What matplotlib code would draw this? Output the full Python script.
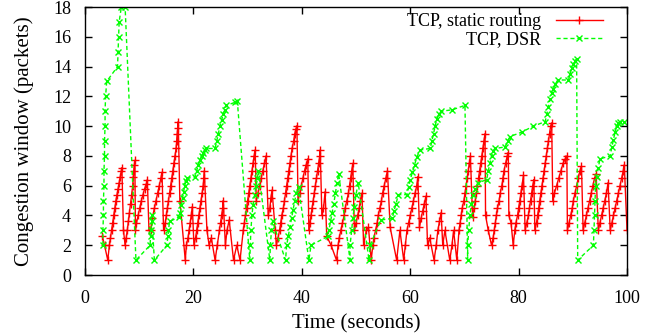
"""
TCP congestion window over time: static routing vs. DSR (gnuplot-like look).
"""
import matplotlib
matplotlib.use("Agg")
import matplotlib.pyplot as plt

plt.rcParams["font.family"] = ["Liberation Serif", "DejaVu Serif"]

# (time [s], cwnd [packets])
tcp_static = [
    (3.2, 2.6), (3.6, 2.0), (4.2, 1.0), (4.5, 2.0),
    (4.7, 2.5), (4.9, 3.0), (5.1, 3.5), (5.3, 4.0), (5.5, 4.5), (5.7, 5.0),
    (5.9, 5.4), (6.1, 5.8), (6.3, 6.2), (6.5, 6.6), (6.7, 7.0), (6.8, 7.2),
    (7.1, 3.0), (7.4, 2.0),
    (7.6, 2.5), (7.8, 3.0), (8.0, 3.6), (8.2, 4.2), (8.4, 4.8), (8.6, 5.4),
    (8.8, 6.0), (8.9, 6.6), (9.0, 7.0), (9.1, 7.4), (9.2, 7.7),
    (9.3, 3.0), (9.5, 3.5), (9.8, 4.0), (10.1, 4.5), (10.4, 5.0), (10.7, 5.4),
    (11.0, 5.8), (11.3, 6.1), (11.5, 6.4),
    (11.8, 3.0), (12.1, 3.0), (12.4, 3.8), (12.8, 4.5), (13.1, 5.0),
    (13.4, 5.5), (13.7, 6.0), (14.0, 6.5), (14.2, 6.9),
    (14.5, 3.0), (14.8, 3.5), (15.0, 4.0), (15.2, 4.5), (15.4, 5.0),
    (15.6, 5.5), (15.8, 6.0), (16.0, 6.5), (16.2, 7.0), (16.4, 7.5),
    (16.6, 8.0), (16.8, 8.5), (16.9, 9.0), (17.0, 9.5), (17.1, 9.9), (17.2, 10.3),
    (17.5, 5.0), (18.5, 1.0), (18.7, 2.0),
    (19.0, 2.5), (19.2, 3.0), (19.4, 3.5), (19.6, 4.0), (19.8, 4.6),
    (20.1, 2.0), (20.4, 2.5), (20.6, 3.0), (20.8, 3.5), (21.0, 4.0),
    (21.2, 4.5), (21.4, 5.0), (21.6, 5.5), (21.8, 6.0), (21.9, 6.5), (22.0, 7.0),
    (22.5, 3.0), (22.9, 2.0), (23.3, 2.5), (24.0, 1.0), (24.4, 2.0),
    (24.8, 3.0), (25.0, 3.5), (25.2, 4.0), (25.4, 4.5), (25.5, 5.0),
    (25.9, 2.0), (26.2, 3.0), (26.6, 3.7), (27.4, 1.0), (28.0, 2.0),
    (28.6, 1.0), (29.2, 3.0),
    (29.4, 3.5), (29.6, 4.0), (29.8, 4.5), (30.0, 5.0), (30.2, 5.5),
    (30.4, 6.0), (30.6, 6.5), (30.8, 7.0), (31.0, 7.5), (31.2, 8.0), (31.4, 8.4),
    (31.6, 5.0), (31.9, 5.5), (32.2, 6.0), (32.5, 6.5), (32.8, 7.0),
    (33.1, 7.5), (33.4, 8.0),
    (33.8, 4.0), (34.1, 4.5), (34.3, 5.2), (34.5, 5.7),
    (35.1, 3.0), (35.3, 2.0),
    (35.6, 2.5), (35.9, 3.0), (36.1, 3.5), (36.3, 4.0), (36.6, 4.5),
    (36.8, 5.0), (37.0, 5.5), (37.2, 6.0), (37.4, 6.5), (37.6, 7.0),
    (37.8, 7.5), (38.0, 8.0), (38.2, 8.5), (38.5, 9.0), (38.7, 9.5),
    (38.9, 9.8), (39.1, 10.0),
    (39.3, 5.0), (39.6, 5.5), (39.9, 6.0), (40.2, 6.5), (40.5, 7.0),
    (40.8, 7.4), (41.1, 7.8),
    (41.3, 3.0), (41.5, 3.5), (41.7, 4.0), (41.9, 4.5), (42.1, 5.0),
    (42.3, 5.5), (42.5, 6.0), (42.7, 6.5), (42.9, 7.0), (43.1, 7.5),
    (43.3, 8.0), (43.4, 8.4),
    (43.7, 4.0), (44.0, 4.5), (44.3, 5.6), (44.6, 2.6), (45.4, 2.0),
    (46.4, 1.0), (46.7, 2.0),
    (46.9, 2.5), (47.2, 3.0), (47.5, 3.5), (47.8, 4.0), (48.0, 4.5),
    (48.3, 5.0), (48.6, 5.5), (48.8, 6.0), (49.0, 6.5), (49.2, 7.0), (49.4, 7.5),
    (49.7, 3.0), (50.0, 3.5), (50.3, 4.0), (50.6, 4.5), (50.8, 5.0), (51.1, 5.5),
    (51.4, 2.0), (51.9, 3.0), (52.3, 3.2), (52.8, 1.0), (53.1, 2.0),
    (53.3, 2.5), (53.6, 3.0), (53.9, 3.5), (54.1, 4.0), (54.4, 4.5),
    (54.7, 5.0), (54.9, 5.5), (55.2, 6.0), (55.5, 6.5), (55.8, 7.0),
    (56.3, 3.2), (57.5, 1.0), (58.1, 3.0), (58.8, 1.0), (59.1, 2.0),
    (59.4, 3.0), (59.7, 3.5), (60.0, 4.0), (60.3, 4.5), (60.6, 5.0),
    (60.9, 5.5), (61.2, 6.0), (61.4, 6.6),
    (61.7, 3.2), (62.0, 3.8), (62.3, 4.3), (62.6, 4.8), (62.9, 5.3),
    (63.2, 2.0), (63.6, 2.5), (64.4, 1.0), (64.8, 2.0),
    (65.1, 3.0), (65.4, 3.6), (65.7, 4.2),
    (66.0, 2.0), (66.4, 3.0), (67.3, 1.0), (67.7, 2.0), (68.0, 3.0),
    (68.6, 1.0), (69.0, 3.0),
    (69.2, 3.5), (69.4, 4.0), (69.6, 4.5), (69.9, 5.0), (70.1, 5.5),
    (70.3, 6.0), (70.5, 6.5), (70.7, 7.0), (70.9, 7.5), (71.1, 8.0),
    (71.5, 3.9), (71.8, 4.5), (72.0, 5.0), (72.2, 5.5), (72.4, 6.0),
    (72.6, 6.5), (72.8, 7.0), (73.0, 7.5), (73.2, 8.0), (73.4, 8.5),
    (73.6, 9.0), (73.8, 9.5),
    (73.9, 4.0), (74.4, 3.0), (75.0, 2.0),
    (75.3, 2.5), (75.5, 3.0), (75.7, 3.5), (75.9, 4.0), (76.1, 4.5),
    (76.4, 5.0), (76.6, 5.5), (76.9, 6.0), (77.1, 6.5), (77.3, 7.0),
    (77.6, 7.5), (77.9, 8.0), (78.1, 8.2),
    (78.2, 4.0), (78.6, 3.5), (79.0, 2.0),
    (79.3, 3.0), (79.5, 3.5), (79.8, 4.0), (80.0, 4.5), (80.2, 5.0),
    (80.4, 5.5), (80.6, 6.0), (80.9, 6.7),
    (81.2, 3.0), (81.5, 3.5), (81.8, 4.0), (82.0, 4.5), (82.2, 5.0),
    (82.4, 5.5), (82.6, 6.0), (82.8, 6.4),
    (83.0, 3.0), (83.3, 3.5), (83.5, 4.0), (83.7, 4.5), (83.9, 5.0),
    (84.1, 5.5), (84.3, 6.0), (84.5, 6.5), (84.7, 7.0), (84.9, 7.5),
    (85.1, 8.0), (85.3, 8.5), (85.5, 9.0), (85.7, 9.5), (85.9, 10.0), (86.1, 10.2),
    (86.3, 5.0), (86.6, 5.5), (87.0, 6.0), (87.4, 6.5), (87.8, 7.0),
    (88.2, 7.5), (88.6, 7.8), (88.9, 8.0),
    (89.0, 3.0), (89.3, 3.5), (89.6, 4.0), (89.9, 4.5), (90.1, 5.0),
    (90.4, 5.5), (90.7, 6.0), (91.0, 6.5), (91.3, 7.0), (91.6, 7.3),
    (91.9, 3.0), (92.2, 3.5), (92.5, 4.0), (92.8, 4.5), (93.1, 5.0),
    (93.4, 5.5), (93.7, 6.0), (94.0, 6.5), (94.3, 6.8),
    (94.7, 3.0), (95.0, 3.5), (95.3, 4.0), (95.6, 4.5), (95.9, 5.0),
    (96.2, 5.5), (96.5, 6.2),
    (96.9, 3.0), (97.2, 3.5), (97.5, 4.0), (97.8, 4.5), (98.1, 5.0),
    (98.4, 5.5), (98.7, 6.0), (99.0, 6.5), (99.3, 7.0), (99.5, 7.4),
    (100.0, 3.0),
]

tcp_dsr = [
    (3.3, 2.0), (3.3, 3.0), (3.4, 4.0), (3.4, 5.0), (3.5, 6.0), (3.5, 7.0),
    (3.6, 8.0), (3.6, 9.0), (3.7, 10.0), (3.7, 11.0), (3.8, 12.0), (4.0, 13.0),
    (6.0, 14.0), (6.1, 15.0), (6.2, 16.0), (6.3, 17.0), (6.7, 18.0), (7.4, 18.0),
    (9.4, 1.0), (12.0, 2.0), (12.1, 2.6), (12.2, 3.0), (12.3, 3.6), (12.3, 4.0),
    (12.8, 1.0), (15.1, 2.0), (15.3, 2.6), (15.4, 3.0), (15.6, 3.6), (17.4, 3.9),
    (17.6, 4.2), (17.8, 4.7), (18.0, 5.2), (18.2, 5.6), (18.4, 6.0), (18.6, 6.3),
    (18.8, 6.5), (20.3, 6.6),
    (20.6, 7.0), (20.9, 7.4), (21.2, 7.7), (21.5, 8.0), (21.8, 8.2), (22.1, 8.4),
    (22.4, 8.5), (24.0, 8.5),
    (24.3, 9.0), (24.6, 9.5), (24.9, 10.0), (25.2, 10.4), (25.5, 10.8),
    (25.8, 11.1), (26.1, 11.4), (27.7, 11.6), (28.1, 11.7),
    (30.4, 1.0), (30.5, 2.0), (30.6, 3.0), (30.8, 4.0),
    (31.0, 4.7), (31.3, 5.4), (31.6, 6.0), (31.8, 6.5), (32.0, 7.0),
    (34.1, 1.0), (34.2, 2.0), (34.4, 3.0), (34.6, 3.6),
    (37.0, 1.0), (37.2, 2.0), (37.5, 2.6),
    (37.8, 3.2), (38.1, 3.8), (38.4, 4.4), (38.7, 5.0), (39.0, 5.5), (39.4, 5.9),
    (41.3, 1.0), (41.7, 2.0), (44.8, 2.6),
    (45.0, 3.0), (45.3, 3.6), (45.6, 4.2), (45.9, 4.8), (46.2, 5.5),
    (46.5, 6.2), (46.8, 6.8),
    (48.9, 1.0), (48.9, 2.0), (49.2, 3.0),
    (49.4, 3.8), (49.7, 4.6), (50.0, 5.4), (50.4, 6.2),
    (52.4, 1.0), (52.6, 2.0), (54.6, 3.7), (56.7, 3.8),
    (57.0, 4.3), (57.4, 4.8), (57.8, 5.4), (59.4, 5.4),
    (59.7, 5.9), (60.0, 6.4), (60.4, 6.9), (60.8, 7.4), (61.2, 7.9), (61.8, 8.4),
    (63.7, 8.5),
    (64.0, 9.0), (64.3, 9.5), (64.6, 10.0), (64.9, 10.5), (65.3, 10.8), (65.7, 11.0),
    (67.8, 11.1), (70.1, 11.4),
    (70.6, 1.0), (70.6, 2.0), (70.8, 3.0), (71.0, 4.0),
    (71.3, 4.8), (71.6, 5.4), (72.0, 5.8), (72.5, 6.2), (74.1, 6.4),
    (74.4, 7.0), (74.7, 7.5), (75.0, 8.0), (75.3, 8.3), (75.6, 8.5), (77.5, 8.6),
    (78.0, 9.0), (78.4, 9.3), (80.6, 9.6), (82.7, 10.0), (84.9, 10.3),
    (85.2, 10.8), (85.5, 11.3), (85.8, 11.8), (86.1, 12.2), (86.4, 12.5),
    (86.8, 12.8), (87.2, 13.1), (89.2, 13.1),
    (89.5, 13.5), (89.8, 13.9), (90.1, 14.2), (90.4, 14.4), (90.7, 14.5),
    (90.9, 1.0), (93.8, 2.0), (93.9, 3.0), (94.0, 4.0), (94.1, 5.0), (94.2, 6.0),
    (94.4, 6.6), (94.7, 7.2), (95.0, 7.8), (96.9, 8.0),
    (97.2, 8.6), (97.5, 9.1), (97.8, 9.6), (98.1, 10.0), (98.4, 10.2),
    (98.7, 10.3), (99.5, 10.3),
]

x_ticks = [0, 20, 40, 60, 80, 100]
y_ticks = [0, 2, 4, 6, 8, 10, 12, 14, 16, 18]

fig = plt.figure(figsize=(6.61, 3.35), dpi=100)
ax = fig.add_axes([0.1286, 0.179, 0.82, 0.800])

t_s, w_s = zip(*tcp_static)
t_d, w_d = zip(*tcp_dsr)
ax.plot(t_s, w_s, "-", color="#ff0000", lw=1, marker="+", ms=6, mew=1,
        label="TCP, static routing")
ax.plot(t_d, w_d, "--", color="#00ff00", lw=1, marker="x", ms=5, mew=1,
        dashes=(3, 2), label="TCP, DSR")

ax.set_xlim(0, 100)
ax.set_ylim(0, 18)
ax.set_xticks(x_ticks)
ax.set_yticks(y_ticks)
ax.tick_params(direction="in", top=True, right=True, length=5, width=1,
               labelsize=13)
ax.tick_params(axis="x", pad=11)
ax.tick_params(axis="y", pad=10)
for s in ax.spines.values():
    s.set_linewidth(1)
ax.set_xlabel("Time (seconds)", fontsize=15, labelpad=5)
ax.set_ylabel("Congestion window (packets)", fontsize=15, labelpad=14)

ax.legend(loc="upper right", bbox_to_anchor=(0.962, 0.99), frameon=False,
          markerfirst=False, numpoints=1, fontsize=13, handlelength=2.6,
          handletextpad=0.8, labelspacing=0.05, borderaxespad=0,
          borderpad=0.2)

fig.savefig("out.png", dpi=100)
